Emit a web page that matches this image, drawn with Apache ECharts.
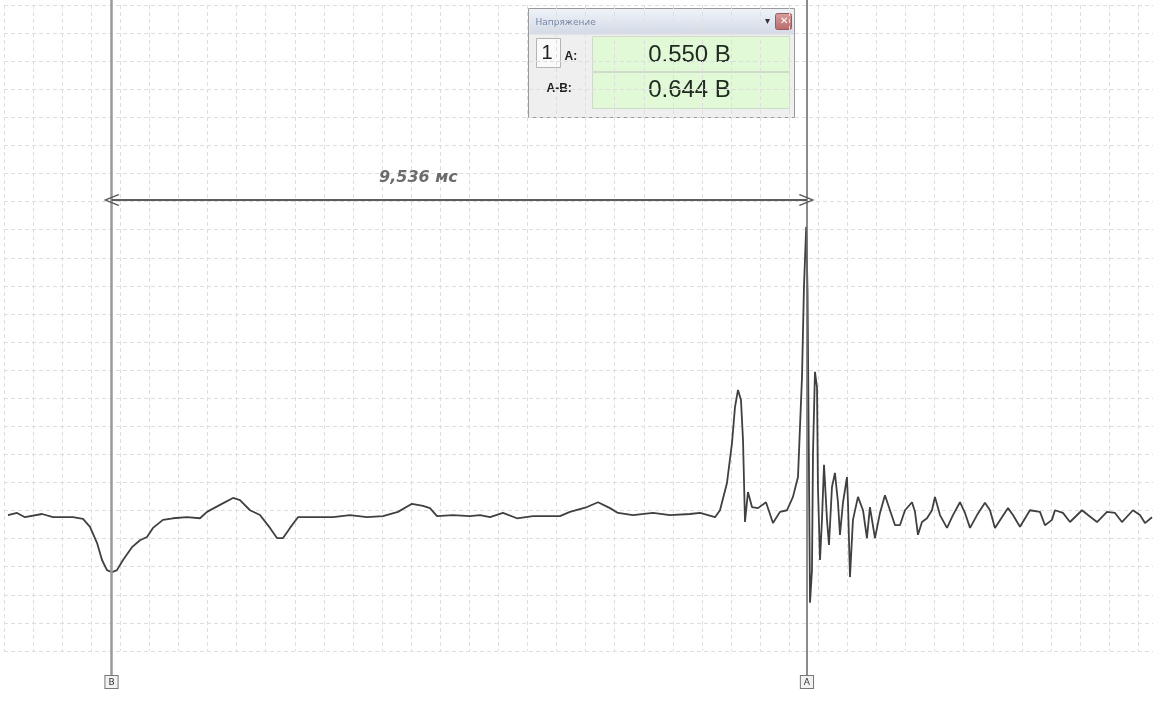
<!DOCTYPE html>
<html><head><meta charset="utf-8">
<script src="https://cdn.jsdelivr.net/npm/echarts@6/dist/echarts.min.js"></script>
<style>html,body{margin:0;padding:0;background:#fff}#c{width:1153px;height:702px}</style>
</head><body><div id="c"></div>
<script>
// time in ms (cursor B = 0), voltage in V
const tMs = [-1.420,-1.296,-1.187,-0.953,-0.802,-0.528,-0.391,-0.295,-0.199,-0.130,-0.062,0.007,0.075,0.158,0.281,0.391,0.487,0.569,0.706,0.844,1.036,1.214,1.310,1.488,1.667,1.763,1.900,2.037,2.174,2.270,2.353,2.449,2.558,2.819,3.038,3.272,3.505,3.724,3.930,
4.122,4.273,4.369,4.465,4.684,4.918,5.055,5.192,5.370,5.562,5.782,6.152,6.289,6.523,6.674,6.838,6.948,7.154,7.428,7.661,7.936,8.073,8.279,
8.347,8.443,8.512,8.553,8.594,8.635,8.663,8.690,8.731,8.786,8.868,8.978,9.074,9.170,9.266,9.348,9.417,9.472,9.499,9.530,9.548,9.562,9.582,9.609,9.623,9.650,9.678,9.691,9.719,9.746,9.774,9.815,9.842,9.883,9.924,9.966,9.993,10.034,10.089,10.103,10.130,10.171,10.240,10.309,10.363,10.404,10.473,10.542,10.610,10.679,10.748,10.816,10.885,10.981,11.022,11.063,11.118,11.187,11.255,11.296,11.365,11.461,11.543,11.639,11.708,11.777,11.873,11.982,12.051,12.119,12.215,12.298,12.366,12.462,12.599,12.737,12.805,12.901,12.942,13.052,13.148,13.313,13.395,13.519,13.656,13.766,13.861,14.012,14.108,14.177,14.273];
const volts = [0.013,0.017,0.009,0.015,0.009,0.009,0.006,-0.009,-0.039,-0.071,-0.090,-0.094,-0.090,-0.071,-0.047,-0.034,-0.028,-0.011,0.004,0.007,0.009,0.007,0.019,0.032,0.045,0.041,0.022,0.013,-0.011,-0.030,-0.030,-0.011,0.009,0.009,0.009,0.013,0.009,0.011,0.019,
0.034,0.030,0.026,0.011,0.013,0.011,0.013,0.009,0.017,0.007,0.011,0.011,0.019,0.028,0.037,0.026,0.017,0.013,0.017,0.013,0.015,0.017,0.009,
0.022,0.073,0.148,0.215,0.247,0.228,0.153,0.000,0.056,0.028,0.026,0.037,-0.002,0.019,0.022,0.047,0.084,0.271,0.439,0.552,0.430,0.191,-0.151,-0.090,0.129,0.281,0.252,0.065,-0.071,0.004,0.107,0.004,-0.043,0.065,0.092,0.036,-0.024,0.036,0.084,0.036,-0.103,0.004,0.047,0.022,-0.030,0.028,-0.030,0.017,0.050,0.022,-0.006,-0.006,0.022,0.037,0.019,-0.024,0.000,0.007,0.022,0.047,0.013,-0.011,0.013,0.037,0.017,-0.011,0.013,0.036,0.022,-0.011,0.009,0.026,0.013,-0.009,0.022,0.019,-0.006,0.004,0.022,0.017,0.000,0.022,0.013,0.000,0.019,0.017,0.000,0.022,0.013,-0.002,0.009];

const cursorB = 0.000;
const cursorA = 9.536;
const cursorNames = ['B', 'A'];
const valueA = 0.550;
const valueAB = 0.644;
const panelTitle = 'Напряжение';
const deltaText = '9,536 мс';
const arrowV = 0.602;
const deltaLabelPos = [4.211, 0.643];

const xMin = -1.4746, xMax = 14.287;
const yMin = -0.2412, yMax = 0.9668;
const xDivs = 39.51, yDivs = 23;

const chart = echarts.init(document.getElementById('c'), null, {renderer: 'canvas'});
const hidden = {show: false};
const gridLine = {show: true, lineStyle: {color: '#dedede', width: 1, type: [4, 3]}};
const chevron = 'path://M10,0 L20,18 L18.3,19.6 L10,4.5 L1.7,19.6 L0,18 Z';

const option = {
  animation: false,
  backgroundColor: '#ffffff',
  grid: [
    {left: 4, right: 0, top: 5, bottom: 51},
    {left: 4, right: 0, top: 0, bottom: 27}
  ],
  xAxis: [
    {type: 'value', gridIndex: 0, min: xMin, max: xMax, show: false, splitLine: hidden},
    {type: 'value', gridIndex: 0, min: 0, max: xDivs, interval: 1, axisLine: hidden, axisTick: hidden, axisLabel: hidden, splitLine: gridLine},
    {type: 'value', gridIndex: 1, min: xMin, max: xMax, show: false, splitLine: hidden}
  ],
  yAxis: [
    {type: 'value', gridIndex: 0, min: yMin, max: yMax, show: false, splitLine: hidden},
    {type: 'value', gridIndex: 0, min: 0, max: yDivs, interval: 1, axisLine: hidden, axisTick: hidden, axisLabel: hidden, splitLine: gridLine},
    {type: 'value', gridIndex: 1, min: 0, max: 1, show: false, splitLine: hidden}
  ],
  series: [
    {
      type: 'line', xAxisIndex: 2, yAxisIndex: 2, z: 1,
      data: [[cursorB, 0.5]], showSymbol: false, lineStyle: {opacity: 0},
      markLine: {
        silent: true, symbol: 'none', animation: false,
        lineStyle: {color: '#8a8a8a', width: 2, type: 'solid'},
        label: {
          show: true, position: 'start', distance: 1,
          fontSize: 9, fontFamily: 'DejaVu Sans', color: '#333',
          backgroundColor: '#f2f2f2', borderColor: '#777', borderWidth: 1,
          padding: [2, 3, 1, 3]
        },
        data: [
          {xAxis: cursorB, label: {formatter: cursorNames[0]}, lineStyle: {color: '#9a9a9a', width: 2.5}},
          {xAxis: cursorA, label: {formatter: cursorNames[1]}, lineStyle: {color: '#6e6e6e', width: 1.6}}
        ]
      }
    },
    {
      type: 'line', xAxisIndex: 0, yAxisIndex: 0, z: 3,
      data: tMs.map((t, i) => [t, volts[i]]),
      showSymbol: false, smooth: false,
      lineStyle: {color: '#404040', width: 1.8},
      markLine: {
        silent: true, animation: false,
        symbol: [chevron, chevron], symbolSize: [12, 16],
        lineStyle: {color: '#5c5c5c', width: 2, type: 'solid'},
        itemStyle: {color: '#5c5c5c'},
        label: {show: false},
        data: [[{coord: [cursorB, arrowV]}, {coord: [cursorA, arrowV]}]]
      }
    },
    {
      type: 'scatter', xAxisIndex: 0, yAxisIndex: 0, z: 4,
      data: [deltaLabelPos], symbolSize: 2, itemStyle: {color: 'rgba(0,0,0,0)'},
      label: {
        show: true, position: 'inside', formatter: deltaText,
        fontFamily: 'DejaVu Sans', fontStyle: 'italic', fontWeight: 'bold',
        fontSize: 16, color: '#474747'
      }
    }
  ],
  graphic: [
    {
      type: 'group', left: 528, top: 8, z: 100,
      children: [
        {type: 'rect', shape: {x: 0, y: 0, width: 266, height: 109}, style: {fill: '#efefef', stroke: '#9a9a9a', lineWidth: 1}},
        {type: 'rect', shape: {x: 1, y: 1, width: 264, height: 25},
          style: {fill: new echarts.graphic.LinearGradient(0, 0, 0, 1, [{offset: 0, color: '#eef2f8'}, {offset: 1, color: '#d3dae6'}])}},
        {type: 'text', x: 7, y: 14, style: {text: panelTitle, fontSize: 9, fontFamily: 'DejaVu Sans', fill: '#7585a5', verticalAlign: 'middle'}},
        {type: 'text', x: 236, y: 13, style: {text: '▾', fontSize: 10, fill: '#333', verticalAlign: 'middle'}},
        {type: 'rect', shape: {x: 247, y: 5, width: 16, height: 16, r: 2},
          style: {fill: new echarts.graphic.LinearGradient(0, 0, 0, 1, [{offset: 0, color: '#d9a0a0'}, {offset: 1, color: '#b86a6a'}]), stroke: '#9a5a5a', lineWidth: 1}},
        {type: 'text', x: 255, y: 13, style: {text: '✕', fontSize: 10, fill: '#fff', align: 'center', verticalAlign: 'middle'}},
        {type: 'rect', shape: {x: 8, y: 30, width: 24, height: 29}, style: {fill: '#fafafa', stroke: '#b4b4b4', lineWidth: 1}},
        {type: 'text', x: 13, y: 45, style: {text: '1', fontSize: 20, fontFamily: 'Liberation Sans', fill: '#222', verticalAlign: 'middle'}},
        {type: 'text', x: 36, y: 48, style: {text: 'A:', fontSize: 12, fontWeight: 'bold', fontFamily: 'Liberation Sans', fill: '#222', verticalAlign: 'middle'}},
        {type: 'text', x: 18, y: 80, style: {text: 'A-B:', fontSize: 12, fontWeight: 'bold', fontFamily: 'Liberation Sans', fill: '#222', verticalAlign: 'middle'}},
        {type: 'rect', shape: {x: 64, y: 28, width: 197, height: 35}, style: {fill: '#e2f9d8', stroke: '#cfdcca', lineWidth: 1}},
        {type: 'rect', shape: {x: 64, y: 64, width: 197, height: 36}, style: {fill: '#e2f9d8', stroke: '#cfdcca', lineWidth: 1}},
        {type: 'text', x: 161, y: 47, style: {text: valueA.toFixed(3) + ' В', fontSize: 24, fontFamily: 'Liberation Sans', fill: '#1e2b1e', align: 'center', verticalAlign: 'middle'}},
        {type: 'text', x: 161, y: 82, style: {text: valueAB.toFixed(3) + ' В', fontSize: 24, fontFamily: 'Liberation Sans', fill: '#1e2b1e', align: 'center', verticalAlign: 'middle'}}
      ]
    }
  ]
};
chart.setOption(option);
</script>
</body></html>
